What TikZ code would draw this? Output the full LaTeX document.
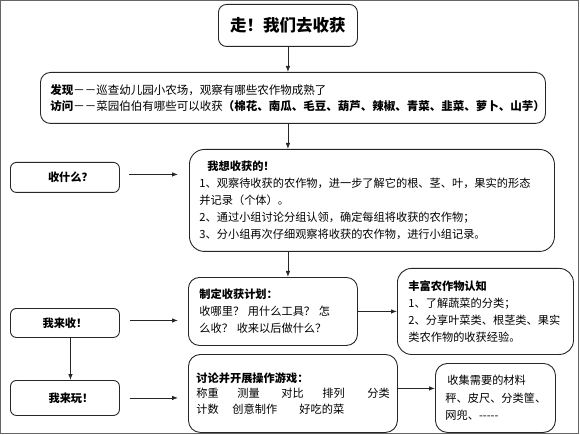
\documentclass[tikz,border=0pt]{standalone}
\usepackage{fontspec}
\setmainfont{Noto Sans CJK SC}
\usetikzlibrary{arrows.meta}
\tikzset{
  box/.style={draw=black!85, line width=0.9pt, rectangle, anchor=north west, align=left, inner ysep=2pt,
    font=\fontsize{11.2}{17}\selectfont},
  arr/.style={draw=black!85, line width=0.8pt, -{Latex[length=6pt,width=4.5pt]}},
}
\begin{document}
\begin{tikzpicture}[x=1pt,y=-1pt]
\useasboundingbox (0,0) rectangle (580,435);
\draw[black!60, line width=1pt] (0.5,0.5) rectangle (578.5,433.5);

\node[box, rounded corners=8pt, minimum width=139pt, minimum height=42pt, text width=125pt, inner xsep=7pt, align=center,
  font=\fontsize{16.5}{20}\selectfont\bfseries] (title) at (218,4) {走！我们去收获};

\node[box, rounded corners=10pt, minimum height=51pt, text width=485pt, inner xsep=10pt,
  font=\fontsize{11.5}{16}\selectfont] (find) at (40,72)
  {\textbf{发现}－－巡查幼儿园小农场，观察有哪些农作物成熟了\\
   \textbf{访问}－－菜园伯伯有哪些可以收获\textbf{（棉花、南瓜、毛豆、葫芦、辣椒、青菜、韭菜、萝卜、山芋）}};

\node[box, rounded corners=6pt, minimum height=30pt, text width=93pt, inner xsep=8pt, align=center] (what) at (10,162)
  {\hspace*{11pt}\textbf{收什么？}};

\node[box, rounded corners=15pt, minimum height=102pt, text width=345pt, inner xsep=10pt] (want) at (189,149)
  {\hspace*{8pt}\textbf{我想收获的！}\\
   \mbox{1、观察待收获的农作物，进一步了解它的根、茎、叶，果实的形态}\\
   并记录（个体）。\\
   2、通过小组讨论分组认领，确定每组将收获的农作物；\\
   3、分小组再次仔细观察将收获的农作物，进行小组记录。};

\node[box, rounded corners=6pt, minimum height=29pt, text width=93pt, inner xsep=8pt, align=center] (shou) at (10,308)
  {\textbf{我来收！}};

\node[box, rounded corners=11pt, minimum height=68pt, text width=147pt, inner xsep=11pt] (plan) at (188,277)
  {\textbf{制定收获计划：}\\
   \mbox{收哪里？ 用什么工具？ 怎}\\
   \mbox{么收？ 收来以后做什么？}};

\node[box, rounded corners=14pt, minimum height=86pt, text width=154pt, inner xsep=11pt] (rich) at (397,268)
  {\textbf{丰富农作物认知}\\
   1、了解蔬菜的分类；\\
   \mbox{2、分享叶菜类、根茎类、果实}\\
   类农作物的收获经验。};

\node[box, rounded corners=6pt, minimum height=35pt, text width=93pt, inner xsep=8pt, align=center] (play) at (10,380)
  {\hspace*{12pt}\textbf{我来玩！}};

\node[box, rounded corners=12pt, minimum height=78pt, text width=193pt, inner xsep=8pt,
  font=\fontsize{11.2}{15.5}\selectfont] (disc) at (188,354)
  {\textbf{讨论并开展操作游戏：}\\
   \makebox[41pt][l]{称重}\makebox[44pt][l]{测量}\makebox[41pt][l]{对比}\makebox[45pt][l]{排列}分类\\
   \makebox[36pt][l]{计数}\makebox[67pt][l]{创意制作}好吃的菜};

\node[box, rounded corners=12pt, minimum height=69pt, text width=100pt, inner xsep=10pt,
  font=\fontsize{11.2}{17.5}\selectfont] (collect) at (435,363)
  {\hspace*{2pt}收集需要的材料\\
   \mbox{秤、皮尺、分类筐、}\\
   网兜、-\kern0pt-\kern0pt-\kern0pt-\kern0pt-};

% vertical main flow
\draw[arr] (title.south) -- (find.north -| title.south);
\draw[arr] (find.south -| title.south) -- (want.north -| title.south);
\draw[arr] (want.south -| title.south) -- (plan.north -| title.south);

% left column arrows
\draw[arr, shorten <=9pt, shorten >=11pt] ([yshift=3pt]what.east) -- ([yshift=3pt]what.east -| want.west);
\draw[arr, shorten <=10pt, shorten >=10pt] ([yshift=2.5pt]shou.east) -- ([yshift=2.5pt]shou.east -| plan.west);
\draw[arr, shorten <=10pt, shorten >=10pt] (play.east) -- (play.east -| disc.west);
\draw[arr] ([xshift=5.5pt]shou.south) -- ([xshift=5.5pt]shou.south |- play.north);

% right arrows
\draw[arr] (plan.east) -- (plan.east -| rich.west);
\draw[arr] ([yshift=5pt]disc.east) -- ([yshift=5pt]disc.east -| collect.west);
\end{tikzpicture}
\end{document}
